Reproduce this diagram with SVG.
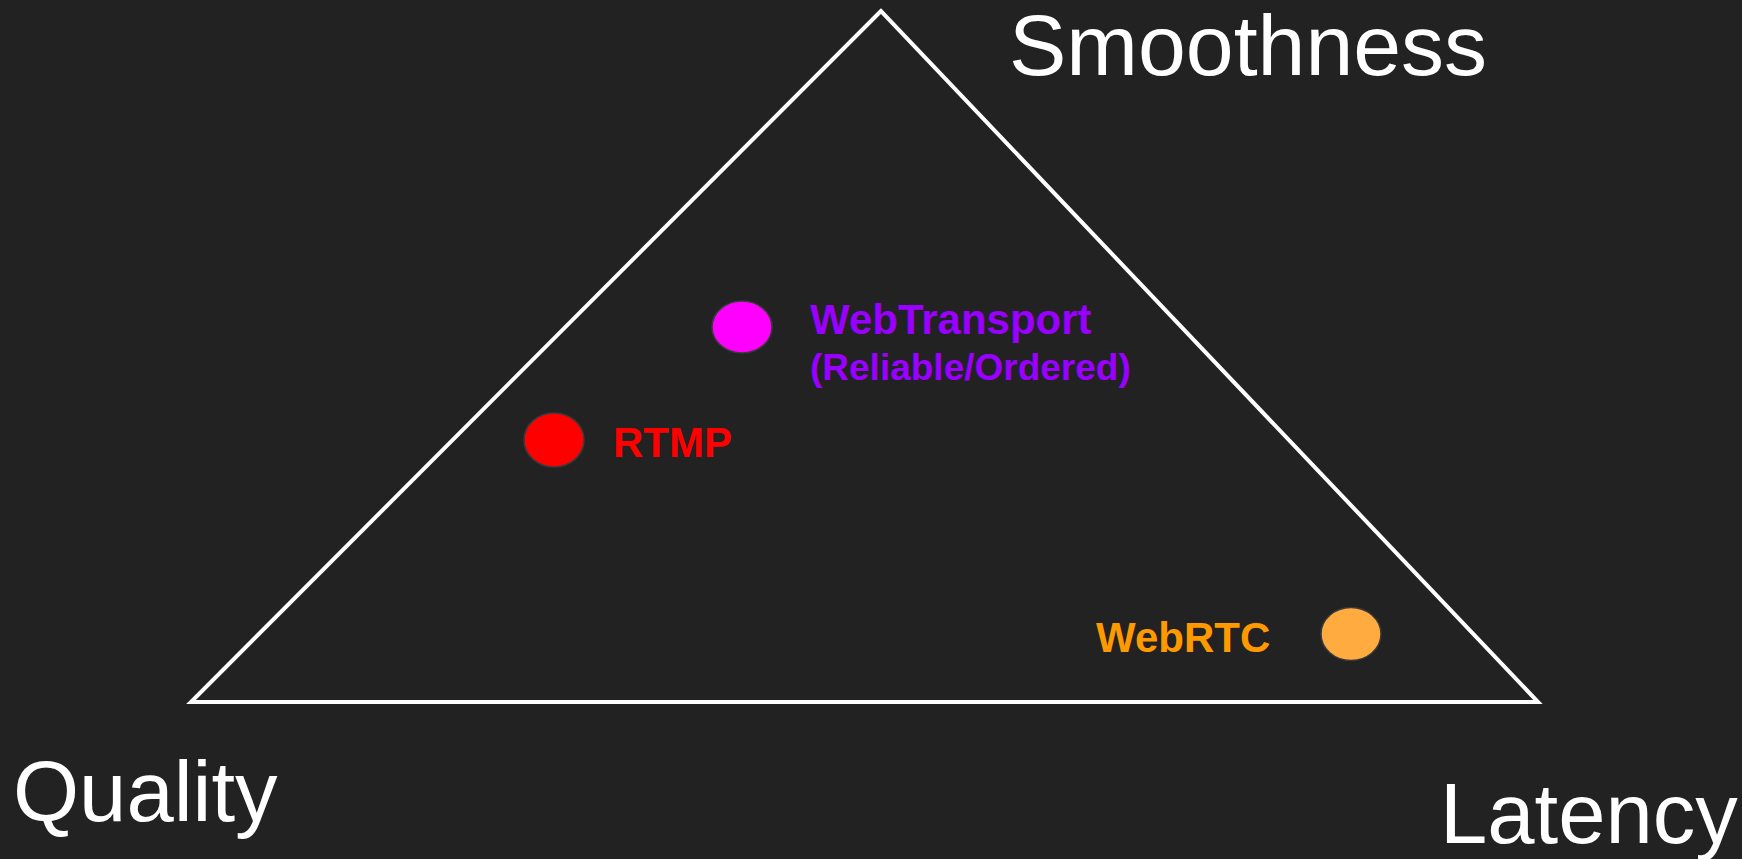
<svg xmlns="http://www.w3.org/2000/svg" width="1742" height="859" viewBox="0 0 1742 859">
<style>
.axis{font-family:"Liberation Sans",Arial,sans-serif;font-size:85px;fill:#ffffff}
.lbl{font-family:"Liberation Sans",Arial,sans-serif;font-weight:bold;font-size:42px}
.dot{stroke:#3a3a3a;stroke-width:1.5}
</style>
<rect x="0" y="0" width="1742" height="859" fill="#222222"/>
<g id="triangle">
<polygon points="881,11 191,702 1538,702" fill="none" stroke="#ffffff" stroke-width="4" stroke-linejoin="miter"/>
</g>
<g id="axis-smoothness"><text class="axis" x="1009" y="75" style="font-size:86px">Smoothness</text></g>
<g id="axis-quality"><text class="axis" x="13" y="821">Quality</text></g>
<g id="axis-latency"><text class="axis" x="1440" y="843">Latency</text></g>
<g id="node-webtransport">
<ellipse class="dot" cx="742" cy="327" rx="30" ry="26" fill="#ff00ff"/>
<text class="lbl" x="810" y="334" fill="#9900ff">WebTransport</text>
<text class="lbl" x="810" y="380" fill="#9900ff" style="font-size:37px">(Reliable/Ordered)</text>
</g>
<g id="node-rtmp">
<ellipse class="dot" cx="554" cy="440" rx="30" ry="27" fill="#ff0000"/>
<text class="lbl" x="613" y="457" fill="#ff0000">RTMP</text>
</g>
<g id="node-webrtc">
<ellipse class="dot" cx="1351" cy="634" rx="30" ry="26.5" fill="#ffab40"/>
<text class="lbl" x="1096" y="652" fill="#ff9900">WebRTC</text>
</g>
<g id="connectors"></g>
</svg>
